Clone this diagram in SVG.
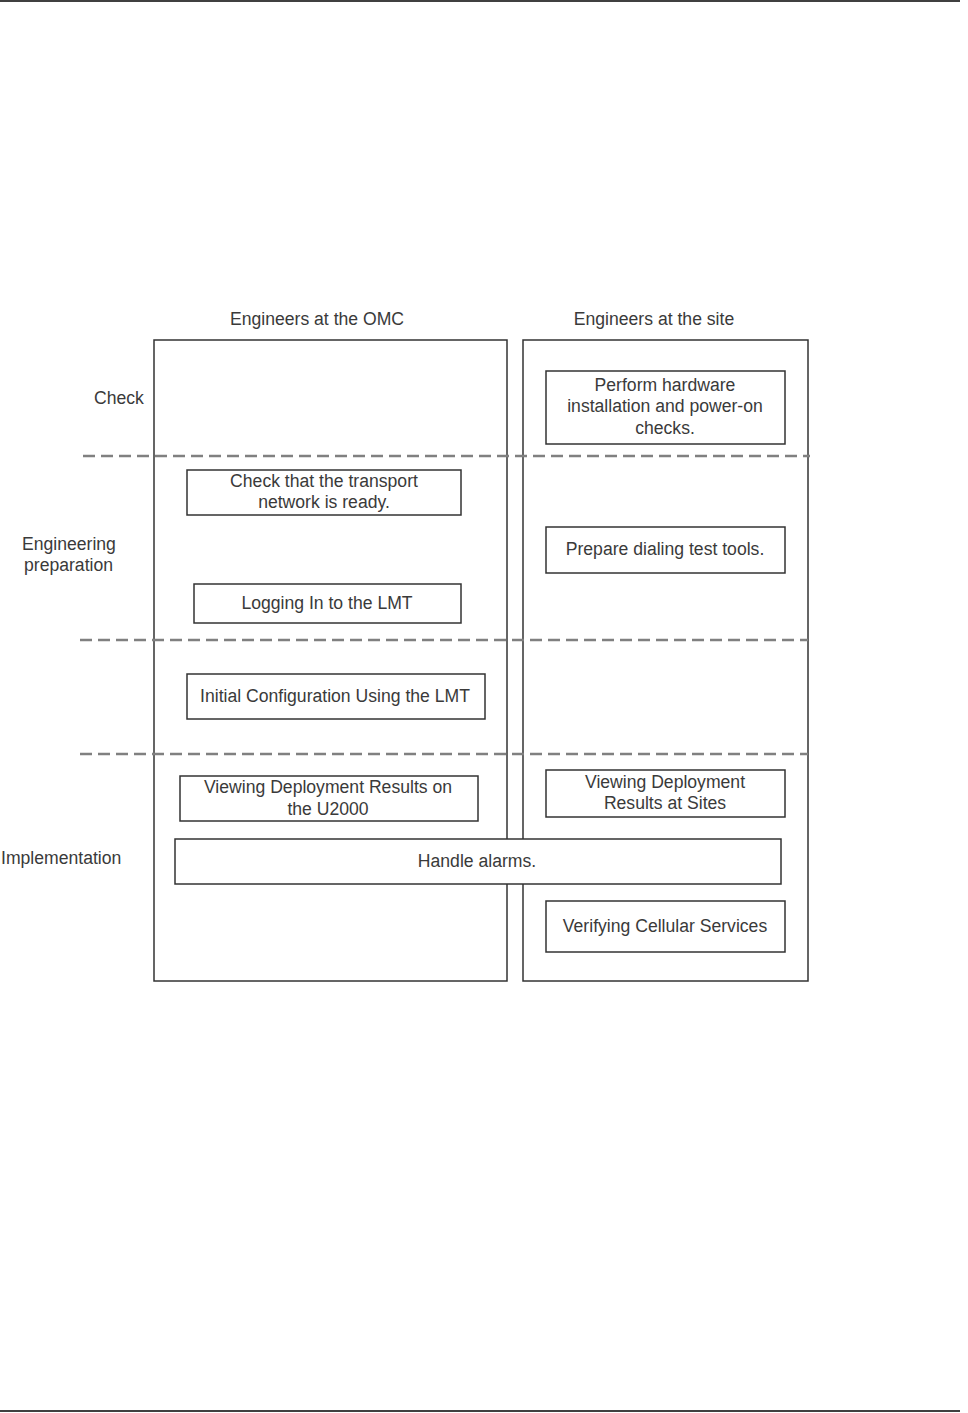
<svg xmlns="http://www.w3.org/2000/svg" width="968" height="1413" viewBox="0 0 968 1413">
<style>
text{font-family:"Liberation Sans",Arial,sans-serif;font-size:17.6px;fill:#3a3a3a}
.c{text-anchor:middle}
.box{fill:#fff;stroke:#333;stroke-width:1.5}
.lane{fill:none;stroke:#333;stroke-width:1.5}
.dash{stroke:#808080;stroke-width:2.5;stroke-dasharray:12 6;fill:none}
.rule{stroke:#000;stroke-width:1.5}
</style>
<rect width="968" height="1413" fill="#fff"/>
<line class="rule" x1="0" y1="1" x2="960" y2="1"/>
<line class="rule" x1="0" y1="1411" x2="960" y2="1411"/>
<g id="lane-omc">
<rect class="lane" x="154" y="340" width="353" height="641"/>
<text class="c" x="317" y="325">Engineers at the OMC</text>
</g>
<g id="lane-site">
<rect class="lane" x="523" y="340" width="285" height="641"/>
<text class="c" x="654" y="325">Engineers at the site</text>
</g>
<g id="phases">
<line class="dash" x1="83" y1="456" x2="810" y2="456"/>
<line class="dash" x1="80" y1="640" x2="808" y2="640"/>
<line class="dash" x1="80" y1="754" x2="808" y2="754"/>
<text x="94" y="404">Check</text>
<text x="22" y="550">Engineering</text>
<text x="24" y="571">preparation</text>
<text x="1" y="864">Implementation</text>
</g>
<g id="connectors"></g>
<g id="n-hw">
<rect class="box" x="546" y="371" width="239" height="73"/>
<text class="c" x="665" y="391">Perform hardware</text>
<text class="c" x="665" y="412">installation and power-on</text>
<text class="c" x="665" y="434">checks.</text>
</g>
<g id="n-transport">
<rect class="box" x="187" y="470" width="274" height="45"/>
<text class="c" x="324" y="487">Check that the transport</text>
<text class="c" x="324" y="508">network is ready.</text>
</g>
<g id="n-dialing">
<rect class="box" x="546" y="527" width="239" height="46"/>
<text class="c" x="665" y="555">Prepare dialing test tools.</text>
</g>
<g id="n-login">
<rect class="box" x="194" y="584" width="267" height="39"/>
<text class="c" x="327" y="609">Logging In to the LMT</text>
</g>
<g id="n-initcfg">
<rect class="box" x="187" y="674" width="298" height="45"/>
<text class="c" x="335" y="702">Initial Configuration Using the LMT</text>
</g>
<g id="n-u2000">
<rect class="box" x="180" y="776" width="298" height="45"/>
<text class="c" x="328" y="793">Viewing Deployment Results on</text>
<text class="c" x="328" y="815">the U2000</text>
</g>
<g id="n-sites">
<rect class="box" x="546" y="770" width="239" height="47"/>
<text class="c" x="665" y="788">Viewing Deployment</text>
<text class="c" x="665" y="809">Results at Sites</text>
</g>
<g id="n-alarms">
<rect class="box" x="175" y="839" width="606" height="45"/>
<text class="c" x="477" y="867">Handle alarms.</text>
</g>
<g id="n-verify">
<rect class="box" x="546" y="901" width="239" height="51"/>
<text class="c" x="665" y="932">Verifying Cellular Services</text>
</g>
</svg>
